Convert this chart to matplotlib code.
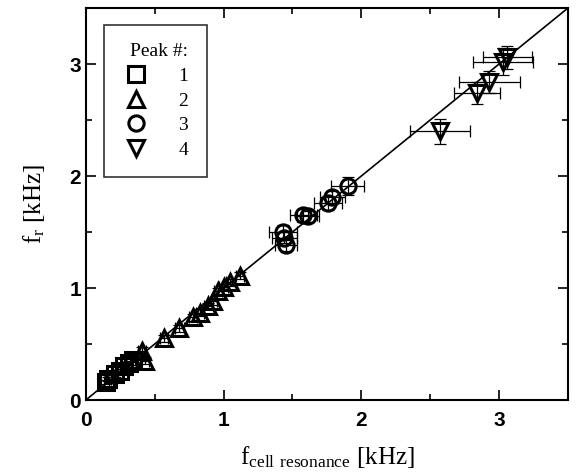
import numpy as np
import matplotlib
matplotlib.use("Agg")
import matplotlib.pyplot as plt
from matplotlib.lines import Line2D

plt.rcParams['mathtext.fontset'] = 'custom'
plt.rcParams['mathtext.rm'] = 'Liberation Serif'

# peak 1 (squares)
p1_x = [0.15, 0.16, 0.21, 0.25, 0.28, 0.31, 0.34]
p1_y = [0.16, 0.19, 0.23, 0.26, 0.30, 0.33, 0.36]
p1_xerr = [0.02, 0.02, 0.02, 0.02, 0.02, 0.02, 0.02]
p1_yerr = [0.02, 0.02, 0.02, 0.02, 0.02, 0.02, 0.02]

# peak 2 (triangles)
p2_x = [0.41, 0.43, 0.57, 0.68, 0.78, 0.83, 0.89, 0.92, 0.96, 1.00, 1.05, 1.12]
p2_y = [0.44, 0.35, 0.55, 0.64, 0.74, 0.78, 0.84, 0.88, 0.97, 1.01, 1.05, 1.11]
p2_xerr = [0.03] * 12
p2_yerr = [0.03] * 12

# peak 3 (circles)
p3_x = [1.43, 1.44, 1.45, 1.58, 1.61, 1.76, 1.79, 1.90]
p3_y = [1.50, 1.45, 1.38, 1.65, 1.64, 1.76, 1.81, 1.91]
p3_xerr = [0.10, 0.09, 0.08, 0.10, 0.08, 0.10, 0.09, 0.12]
p3_yerr = [0.06, 0.05, 0.05, 0.06, 0.05, 0.06, 0.06, 0.08]

# peak 4 (down triangles)
p4_x = [2.57, 2.84, 2.93, 3.03, 3.06]
p4_y = [2.40, 2.74, 2.84, 3.02, 3.06]
p4_xerr = [0.22, 0.17, 0.22, 0.22, 0.18]
p4_yerr = [0.11, 0.10, 0.10, 0.12, 0.10]

fig = plt.figure(figsize=(5.76, 4.72), dpi=100)
ax = fig.add_axes([0.149, 0.1525, 0.837, 0.8305])

ax.plot([0, 3.5], [0, 3.5], color='black', lw=1.2, zorder=1)

series = [(p1_x, p1_y, p1_xerr, p1_yerr, 's'),
          (p2_x, p2_y, p2_xerr, p2_yerr, '^'),
          (p3_x, p3_y, p3_xerr, p3_yerr, 'o'),
          (p4_x, p4_y, p4_xerr, p4_yerr, 'v')]
for x, y, xe, ye, m in series:
    ax.errorbar(x, y, xerr=xe, yerr=ye, fmt='none', ecolor='black',
                elinewidth=0.9, capsize=4, capthick=0.9, zorder=2)
    ax.plot(x, y, linestyle='none', marker=m, markersize=11,
            markerfacecolor='none', markeredgecolor='black',
            markeredgewidth=2.2, zorder=3)

ax.set_xlim(0, 3.5)
ax.set_ylim(0, 3.5)
ax.set_xticks([0, 1, 2, 3])
ax.set_yticks([0, 1, 2, 3])
ax.set_xticks([0.5, 1.5, 2.5], minor=True)
ax.set_yticks([0.5, 1.5, 2.5], minor=True)
ax.tick_params(which='both', direction='in', top=True, right=True,
               width=1.2)
ax.tick_params(which='major', length=7)
ax.tick_params(which='minor', length=4)
ax.tick_params(axis='x', pad=8)
for lab in ax.get_xticklabels() + ax.get_yticklabels():
    lab.set_fontfamily('Liberation Sans')
    lab.set_fontsize(15)
    lab.set_fontweight('bold')
for sp in ax.spines.values():
    sp.set_linewidth(1.5)

ax.set_xlabel(r'$\mathregular{f_{cell\ resonance}}$ [kHz]',
              fontfamily='Liberation Serif', fontsize=18, labelpad=10)
ax.set_ylabel(r'$\mathregular{f_{r}}$ [kHz]',
              fontfamily='Liberation Serif', fontsize=18, labelpad=16)

handles = [Line2D([], [], linestyle='none', marker=m, markersize=11,
                  markerfacecolor='none', markeredgecolor='black',
                  markeredgewidth=2.2) for m in ['s', '^', 'o', 'v']]
leg = ax.legend(handles, ['1', '2', '3', '4'], title='Peak #:',
                loc='upper left', bbox_to_anchor=(0.037, 0.957),
                borderaxespad=0, frameon=True, fancybox=False,
                edgecolor='black', handlelength=1.4, handletextpad=1.5,
                labelspacing=0.36, borderpad=0.95,
                prop={'family': 'Liberation Serif', 'size': 14})
leg.get_title().set_fontfamily('Liberation Serif')
leg.get_title().set_fontsize(14)
leg._legend_box.align = 'right'
leg.get_frame().set_linewidth(1.2)

fig.savefig('out.png', dpi=100)
